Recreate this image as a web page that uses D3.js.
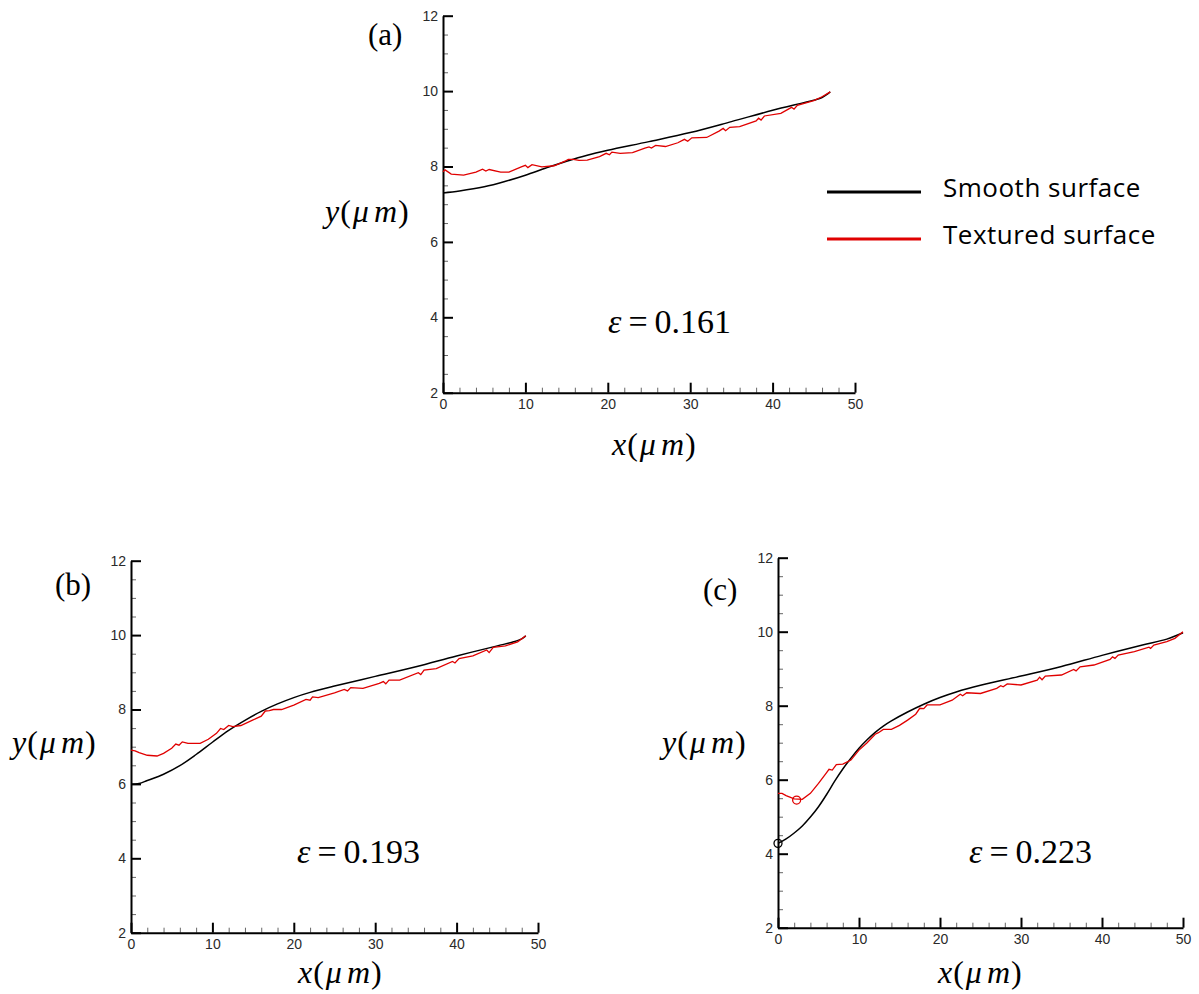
<!DOCTYPE html>
<html>
<head>
<meta charset="utf-8">
<script src="https://cdn.jsdelivr.net/npm/d3@7"></script>
<style>
  body { margin: 0; background: #fff; }
  .tick text { font-family: "Liberation Sans", Arial, sans-serif; font-size: 14px; fill: #2a2a2a; }
</style>
</head>
<body>
<script>
// data (x in um, y in um)
const xTicks = [0, 10, 20, 30, 40, 50];
const yTicks = [2, 4, 6, 8, 10, 12];
const panelNames = ["(a)", "(b)", "(c)"];
const epsValues = ["0.161", "0.193", "0.223"];
const legendLabels = ["Smooth surface", "Textured surface"];

const smoothA = [[0,7.30],[2,7.35],[5,7.46],[7.5,7.60],[10,7.77],[12.5,7.96],[15,8.14],[17.5,8.30],[20,8.43],[25,8.66],[30,8.90],[35,9.19],[40,9.49],[45,9.76],[46,9.83],[47,9.98]];
const texturedA = [[0,7.86],[0.25,7.91],[1,7.80],[2.5,7.77],[4,7.85],[4.8,7.93],[5.2,7.88],[5.6,7.92],[7,7.85],[8,7.85],[9.5,7.99],[10,8.03],[10.3,7.97],[10.8,8.05],[12,7.99],[13.5,8.02],[14.8,8.14],[15.2,8.19],[15.8,8.19],[16.5,8.16],[17.5,8.17],[19,8.26],[19.8,8.35],[20.2,8.31],[20.5,8.38],[21.5,8.35],[23,8.37],[24.5,8.49],[25,8.52],[25.3,8.49],[25.8,8.56],[27,8.53],[28.5,8.63],[29.3,8.72],[29.7,8.67],[30.2,8.76],[32,8.77],[33.5,8.94],[34,9.01],[34.3,8.95],[34.8,9.04],[36,9.06],[38,9.21],[38.3,9.28],[38.6,9.23],[39,9.34],[41,9.41],[42.3,9.57],[42.6,9.52],[43,9.62],[45,9.75],[46,9.85],[47,9.98]];

const smoothB = [[0,5.99],[1,6.01],[2,6.09],[4,6.26],[6,6.49],[8,6.79],[10,7.12],[12,7.44],[14,7.71],[16,7.95],[18,8.15],[20,8.32],[22,8.46],[25,8.63],[30,8.89],[35,9.15],[40,9.44],[45,9.71],[47,9.82],[48,9.90],[48.5,9.98]];
const texturedB = [[0,6.91],[0.5,6.89],[1,6.84],[2,6.77],[3.2,6.75],[4,6.82],[5,6.96],[5.5,7.07],[5.9,7.04],[6.3,7.13],[7,7.09],[8.5,7.09],[9.5,7.20],[10.5,7.36],[11,7.49],[11.4,7.46],[12,7.57],[12.5,7.54],[13.5,7.57],[15,7.72],[16,7.82],[16.5,7.96],[17,7.97],[17.5,8.00],[18.5,8.00],[20,8.12],[21.5,8.27],[22,8.25],[22.3,8.34],[23,8.32],[25,8.45],[26.2,8.54],[26.6,8.50],[27,8.59],[28.5,8.57],[30.5,8.70],[31,8.75],[31.3,8.69],[31.7,8.79],[33,8.79],[35.3,8.99],[35.6,8.94],[36,9.06],[37.5,9.10],[39.5,9.29],[39.8,9.25],[40.3,9.37],[42,9.44],[43.7,9.60],[44,9.53],[44.5,9.67],[46,9.71],[47.5,9.82],[48.5,9.98]];

const smoothC = [[0,4.28],[1,4.40],[2,4.56],[3,4.75],[4,4.99],[5,5.27],[6,5.60],[7,5.96],[8,6.29],[9,6.58],[10,6.85],[11,7.08],[12,7.28],[13,7.45],[14,7.59],[16,7.83],[18,8.04],[20,8.22],[22,8.37],[25,8.55],[30,8.80],[35,9.06],[40,9.36],[45,9.64],[48,9.80],[50,9.97]];
const texturedC = [[0,5.63],[0.5,5.63],[1,5.57],[2,5.48],[3,5.47],[4,5.63],[5,5.90],[6,6.19],[6.3,6.28],[6.7,6.26],[7.2,6.41],[8,6.42],[9,6.53],[10,6.80],[11,7.00],[12,7.23],[12.4,7.27],[13,7.36],[14,7.36],[15,7.47],[16,7.61],[17,7.77],[17.5,7.93],[18,7.92],[18.4,8.02],[20,8.02],[21.5,8.15],[22.5,8.31],[22.8,8.27],[23.3,8.35],[25,8.33],[27,8.47],[27.5,8.54],[27.8,8.51],[28.3,8.59],[30,8.56],[32,8.69],[32.3,8.77],[32.6,8.70],[33,8.80],[35,8.83],[36.5,8.98],[36.8,8.94],[37.3,9.05],[39,9.10],[41,9.25],[41.3,9.32],[41.6,9.28],[42,9.37],[44,9.46],[45.8,9.58],[46,9.55],[46.4,9.64],[48,9.73],[49,9.82],[50,10.0]];
const markersC = [[0,4.28,"smooth"],[2.3,5.45,"textured"]];

const smoothSets = [smoothA, smoothB, smoothC];
const texturedSets = [texturedA, texturedB, texturedC];

// layout of the three panels
const frames = [
  {x0: 443, x1: 855, top: 15.7, bot: 392.7,
   name: [368, 45], ylab: [325, 222], xlab: [612, 455], eps: [608, 333]},
  {x0: 131, x1: 538, top: 560.7, bot: 932.7,
   name: [55, 595], ylab: [12, 753], xlab: [298, 983], eps: [297, 863]},
  {x0: 778, x1: 1183, top: 557.7, bot: 927.7,
   name: [703, 600], ylab: [662, 753], xlab: [938, 983], eps: [969, 863]}
];
const colors = {smooth: "#000", textured: "#e00000"};

const width = 1199, height = 994;
const svg = d3.select("body").append("svg")
  .attr("width", width).attr("height", height)
  .attr("viewBox", [0, 0, width, height]);
svg.append("rect").attr("width", width).attr("height", height).attr("fill", "#fff");

const serif = "'Liberation Serif', 'Times New Roman', serif";

// text made of italic / upright pieces: [text, italic, dx]
function mathText(g, parts, x, y, size) {
  const t = g.append("text").attr("x", x).attr("y", y)
    .attr("font-family", serif).attr("font-size", size).attr("fill", "#000");
  parts.forEach(p => t.append("tspan")
    .attr("font-style", p[1] ? "italic" : "normal")
    .attr("dx", p[2] || 0).text(p[0]));
  return t;
}

frames.forEach((f, i) => {
  const x = d3.scaleLinear().domain([0, 50]).range([f.x0, f.x1]);
  const y = d3.scaleLinear().domain([2, 12]).range([f.bot, f.top]);
  const g = svg.append("g");

  // minor ticks
  g.append("g").attr("transform", `translate(0,${f.bot})`)
    .call(d3.axisBottom(x).tickValues(d3.range(2, 50, 2).filter(v => v % 10)).tickSize(-5).tickFormat(""))
    .call(a => a.select(".domain").remove())
    .call(a => a.selectAll("line").attr("stroke", "#666").attr("stroke-width", 1));
  g.append("g").attr("transform", `translate(${f.x0},0)`)
    .call(d3.axisLeft(y).tickValues(d3.range(2.5, 12, 0.5).filter(v => v % 2)).tickSize(-5).tickFormat(""))
    .call(a => a.select(".domain").remove())
    .call(a => a.selectAll("line").attr("stroke", "#666").attr("stroke-width", 1));

  // major axes
  g.append("g").attr("transform", `translate(0,${f.bot})`)
    .call(d3.axisBottom(x).tickValues(xTicks).tickSize(-10).tickSizeOuter(0).tickPadding(6))
    .call(a => a.selectAll("line, path").attr("stroke", "#000").attr("stroke-width", 2));
  g.append("g").attr("transform", `translate(${f.x0},0)`)
    .call(d3.axisLeft(y).tickValues(yTicks).tickSize(-10).tickSizeOuter(0).tickPadding(5))
    .call(a => a.selectAll("line, path").attr("stroke", "#000").attr("stroke-width", 2));

  const line = d3.line().x(d => x(d[0])).y(d => y(d[1]));
  g.append("path").datum(smoothSets[i])
    .attr("d", line.curve(d3.curveCatmullRom.alpha(0.5)))
    .attr("fill", "none").attr("stroke", colors.smooth).attr("stroke-width", 1.5);
  g.append("path").datum(texturedSets[i])
    .attr("d", line.curve(d3.curveLinear))
    .attr("fill", "none").attr("stroke", colors.textured).attr("stroke-width", 1.3);

  if (i === 2) {
    g.selectAll("circle.mk").data(markersC).join("circle")
      .attr("cx", d => x(d[0])).attr("cy", d => y(d[1])).attr("r", 4)
      .attr("fill", "none").attr("stroke", d => colors[d[2]]).attr("stroke-width", 1.3);
  }

  g.append("text").attr("x", f.name[0]).attr("y", f.name[1])
    .attr("font-family", serif).attr("font-size", 31).text(panelNames[i]);

  mathText(g, [["y", 1], ["(", 0, 1], ["\u03bc", 1, 2], ["m", 1, 5], [")", 0, 1]], f.ylab[0], f.ylab[1], 32);
  mathText(g, [["x", 1], ["(", 0, 1], ["\u03bc", 1, 2], ["m", 1, 5], [")", 0, 1]], f.xlab[0], f.xlab[1], 32);
  mathText(g, [["\u03b5", 1], ["=", 0, 7], [epsValues[i], 0, 7]], f.eps[0], f.eps[1], 34);
});

// legend
const legend = svg.append("g");
const legendKeys = ["smooth", "textured"];
legendKeys.forEach((k, i) => {
  const yy = 192 + i * 47;
  legend.append("line").attr("x1", 827).attr("x2", 921).attr("y1", yy).attr("y2", yy)
    .attr("stroke", colors[k]).attr("stroke-width", 3);
  legend.append("text").attr("x", 943).attr("y", yy + 5)
    .attr("font-family", "'Open Sans', sans-serif").attr("font-size", 26)
    .attr("letter-spacing", 0.5)
    .attr("fill", "#000").text(legendLabels[i]);
});
</script>
</body>
</html>
